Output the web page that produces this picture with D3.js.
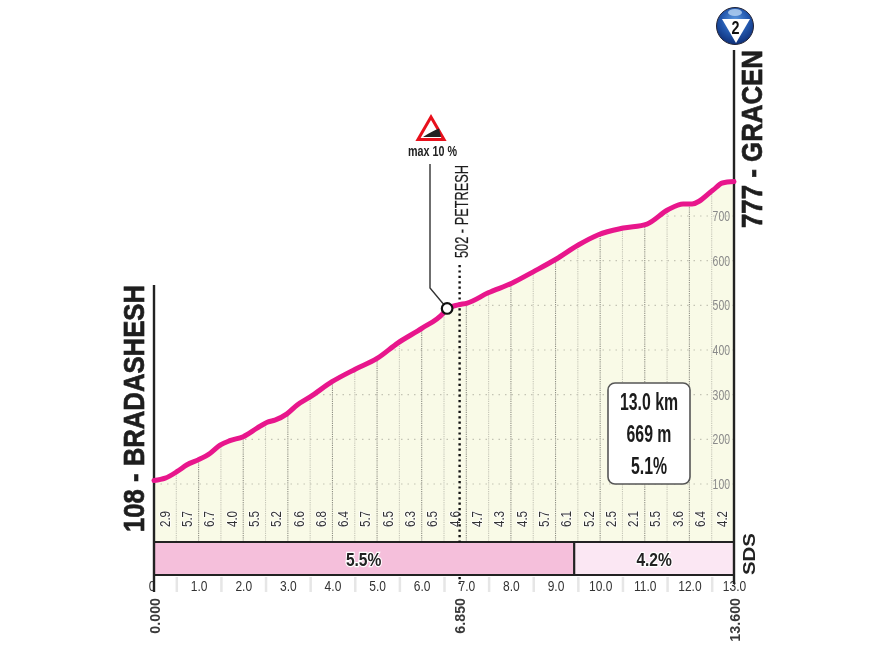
<!DOCTYPE html>
<html><head><meta charset="utf-8">
<script src="https://cdn.jsdelivr.net/npm/d3@7/dist/d3.min.js"></script>
<style>
html,body{margin:0;padding:0;background:#fff;overflow:hidden}
svg{display:block;filter:blur(0.35px)}
text{font-family:"Liberation Sans",sans-serif}
</style></head><body>
<script>
const profileKm=[0,.25,.52,.74,.99,1.26,1.48,1.70,2.0,2.31,2.56,2.71,2.98,3.21,3.5,3.99,4.51,5.0,5.47,6.01,6.48,6.57,6.82,7.02,7.49,8.03,8.5,8.99,9.51,9.96,10.52,11.05,11.52,11.86,12.06,12.53,12.74,13];
const profileElev=[108,113,128,143,154,169,187,197,206,225,239,243,257,277,295,329,357,381,416,449,482,493,501,505,528,550,575,602,635,658,673,682,714,727,727,758,774,777];
const gradients=["2.9","5.7","6.7","4.0","5.5","5.2","6.6","6.8","6.4","5.7","6.5","6.3","6.5","4.6","4.7","4.3","4.5","5.7","6.1","5.2","2.5","2.1","5.5","3.6","6.4","4.2"];
const elevTicks=[100,200,300,400,500,600,700];
const kmTicks=[1,2,3,4,5,6,7,8,9,10,11,12,13];
const sectionStart=[0,9.42];
const sectionEnd=[9.42,13];
const sectionLabel=["5.5%","4.2%"];
const sectionColor=["#f5bfdb","#fbe7f3"];
const infoLines=["13.0 km","669 m","5.1%"];
const startName="108 - BRADASHESH", endName="777 - GRACEN", midName="502 - PETRESH";
const midKm=6.85, leaderKm=6.57, leaderElev=493;
const markerKm=[0,6.85,13], markerLabel=["0.000","6.850","13.600"];

const W=884,H=647;
const x=d3.scaleLinear().domain([0,13]).range([154,734]);
const y=d3.scaleLinear().domain([100,700]).range([484,216]);
const baseY=542,bandBottom=575;
const svg=d3.select("body").append("svg").attr("width",W).attr("height",H).attr("viewBox",`0 0 ${W} ${H}`);
const defs=svg.append("defs");
const pts=profileKm.map((k,i)=>[k,profileElev[i]]);
const area=d3.area().x(d=>x(d[0])).y0(baseY).y1(d=>y(d[1]));
const line=d3.line().x(d=>x(d[0])).y(d=>y(d[1])).curve(d3.curveMonotoneX);
// narrow the glyphs of a text selection: no condensed face is installed
const condense=(sel,k)=>sel.each(function(){
  const n=this.getComputedTextLength();
  d3.select(this).attr("textLength",n*k).attr("lengthAdjust","spacingAndGlyphs");
});
defs.append("clipPath").attr("id","prof").append("path").attr("d",area(pts));
const rg=defs.append("radialGradient").attr("id","ball").attr("cx","50%").attr("cy","35%").attr("r","65%");
rg.append("stop").attr("offset","0").attr("stop-color","#5f9be0");
rg.append("stop").attr("offset",".55").attr("stop-color","#2358ae");
rg.append("stop").attr("offset","1").attr("stop-color","#0e2f78");

svg.append("path").attr("d",area(pts)).attr("fill","#f9fae7");
const grid=svg.append("g").attr("clip-path","url(#prof)");
grid.selectAll("line.h").data(elevTicks).join("line").attr("class","h")
 .attr("x1",x(0)).attr("x2",x(13)).attr("y1",d=>y(d)).attr("y2",d=>y(d))
 .attr("stroke","#c4c4b4").attr("stroke-width",1.2).attr("stroke-dasharray","1.5 5");
const halves=d3.range(1,26).map(i=>i/2);
grid.selectAll("line.v").data(halves).join("line").attr("class","v")
 .attr("x1",d=>x(d)).attr("x2",d=>x(d)).attr("y1",150).attr("y2",baseY)
 .attr("stroke",d=>Number.isInteger(d)?"#8f8f85":"#c6c6b8").attr("stroke-width",1.1).attr("stroke-dasharray","1.2 1");

// gradient labels
svg.append("g").selectAll("text").data(gradients).join("text")
 .attr("transform",(d,i)=>`translate(${x(.25+i*.5)-0.5},519) rotate(-90)`)
 .attr("text-anchor","middle").attr("dominant-baseline","central")
 .attr("font-size",14.5).attr("fill","#333").attr("stroke","#fff").attr("stroke-width",1.5).attr("paint-order","stroke").text(d=>d)
 .call(condense,.8);

// elevation axis
const yAxis=svg.append("g").attr("transform",`translate(${x(13)},0)`)
 .call(d3.axisLeft(y).tickValues(elevTicks).tickSize(0).tickPadding(4));
yAxis.select(".domain").remove();
yAxis.selectAll("text").attr("font-size",14.5).attr("fill","#8a8a8a").style("font-family",'"Liberation Sans",sans-serif').call(condense,.72);

// sections
svg.append("g").selectAll("rect").data(sectionStart).join("rect")
 .attr("x",d=>x(d)).attr("y",baseY).attr("width",(d,i)=>x(sectionEnd[i])-x(d)).attr("height",bandBottom-baseY)
 .attr("fill",(d,i)=>sectionColor[i]).attr("stroke","#222").attr("stroke-width",2);
svg.append("g").selectAll("text").data(sectionLabel).join("text")
 .attr("x",(d,i)=>x((sectionStart[i]+sectionEnd[i])/2)+(i?0:-.5)).attr("y",561)
 .attr("text-anchor","middle").attr("dominant-baseline","middle")
 .attr("font-size",19).attr("font-weight","bold").attr("fill","#222")
 .attr("stroke","#fff").attr("stroke-width",2.5).attr("paint-order","stroke").text(d=>d).call(condense,.82);

// km axis
const minor=svg.append("g").attr("transform",`translate(0,${bandBottom+2})`)
 .call(d3.axisBottom(x).tickValues(d3.range(0,13).map(i=>i+.5)).tickSize(15).tickFormat(""));
minor.select(".domain").remove();
minor.selectAll("line").attr("stroke","#e6e6e6").attr("stroke-width",2.5);
const kmAxis=svg.append("g").attr("transform",`translate(0,${bandBottom})`)
 .call(d3.axisBottom(x).tickValues(kmTicks).tickSize(0).tickPadding(5).tickFormat(d3.format(".1f")));
kmAxis.select(".domain").remove();
kmAxis.selectAll("text").attr("font-size",15).attr("fill","#333").style("font-family",'"Liberation Sans",sans-serif').call(condense,.8);
svg.append("text").attr("x",x(0)-2).attr("y",587).attr("text-anchor","middle").attr("dominant-baseline","middle")
 .attr("font-size",15).attr("fill","#333").text("0").call(condense,.8);

// marker labels
svg.append("g").selectAll("text").data(markerKm).join("text")
 .attr("transform",d=>`translate(${x(d)+(d===13?.5:0)},598) rotate(-90)`)
 .attr("text-anchor","end").attr("dominant-baseline","central")
 .attr("font-size",15.5).attr("font-weight","bold").attr("fill","#3a3a3a").text((d,i)=>markerLabel[i]).call(condense,.92);

// frame lines
svg.append("line").attr("x1",x(0)).attr("x2",x(0)).attr("y1",285).attr("y2",592).attr("stroke","#222").attr("stroke-width",2.4);
svg.append("line").attr("x1",x(13)).attr("x2",x(13)).attr("y1",50).attr("y2",584).attr("stroke","#222").attr("stroke-width",2.4);

// mid dotted
const dots=[[265,542],[577,584]];
svg.append("g").selectAll("line").data(dots).join("line")
 .attr("x1",x(midKm)).attr("x2",x(midKm)).attr("y1",d=>d[0]).attr("y2",d=>d[1])
 .attr("stroke","#111").attr("stroke-width",2.4).attr("stroke-dasharray","2.2 3.2");

// profile
svg.append("path").attr("d",line(pts)).attr("fill","none").attr("stroke","#e8168c").attr("stroke-width",5).attr("stroke-linecap","round").attr("stroke-linejoin","round");

// leader + ring
const lx=x(leaderKm),ly=y(leaderElev);
svg.append("path").attr("d",d3.line()([[430,164],[430,288],[lx,ly]])).attr("fill","none").attr("stroke","#333").attr("stroke-width",1.4);
svg.append("circle").attr("cx",lx).attr("cy",ly).attr("r",5.3).attr("fill","#fff").attr("stroke","#111").attr("stroke-width",2.2);

// place names
const name=(t,tx,ty,size,fw,len,sw)=>svg.append("text").attr("transform",`translate(${tx},${ty}) rotate(-90)`)
 .attr("text-anchor","start").attr("dominant-baseline","central").attr("font-size",size).attr("font-weight",fw)
 .attr("fill","#1e1e1e").attr("stroke","#1e1e1e").attr("stroke-width",sw)
 .attr("textLength",len).attr("lengthAdjust","spacingAndGlyphs").text(t);
name(startName,133,532,30,"bold",247,.7);
name(endName,751,228,30,"bold",178,.7);
name(midName,461,258,19,"normal",93,.2);
svg.append("text").attr("transform","translate(749,575) rotate(-90)").attr("dominant-baseline","central")
 .attr("font-size",17).attr("font-weight","bold").attr("fill","#222").attr("textLength",42).attr("lengthAdjust","spacingAndGlyphs").text("SDS");

// warning sign
svg.append("path").attr("d","M431,117 L444,139.5 L418,139.5 Z").attr("fill","#fff").attr("stroke","#e8101c").attr("stroke-width",3).attr("stroke-linejoin","miter");
svg.append("path").attr("d","M423,137 Q432,131 439,128.5 L441,137 Z").attr("fill","#222");
svg.append("text").attr("x",432.5).attr("y",152.5).attr("text-anchor","middle").attr("dominant-baseline","middle")
 .attr("font-size",14.5).attr("font-weight","bold").attr("fill","#222").text("max 10 %").call(condense,.74);

// info box
svg.append("rect").attr("x",608).attr("y",383).attr("width",82).attr("height",101).attr("rx",7).attr("fill","#fff").attr("stroke","#555").attr("stroke-width",1.6);
svg.append("g").selectAll("text").data(infoLines).join("text")
 .attr("x",649).attr("y",(d,i)=>403.5+i*32).attr("text-anchor","middle").attr("dominant-baseline","middle")
 .attr("font-size",24).attr("font-weight","bold").attr("fill","#1c1c1c").text(d=>d).call(condense,.66);

// finish badge
svg.append("circle").attr("cx",735).attr("cy",26).attr("r",18.5).attr("fill","url(#ball)").attr("stroke","#223").attr("stroke-width",1);
svg.append("ellipse").attr("cx",735).attr("cy",12.5).attr("rx",7).attr("ry",3.5).attr("fill","#b9d6f4").attr("opacity",.8);
svg.append("path").attr("d","M722,19 L750,19 L736,43 Z").attr("fill","#fff");
svg.append("text").attr("x",735.5).attr("y",29.5).attr("text-anchor","middle").attr("dominant-baseline","middle")
 .attr("font-size",18).attr("font-weight","bold").attr("fill","#111").text("2").call(condense,.8);
</script>
</body></html>
